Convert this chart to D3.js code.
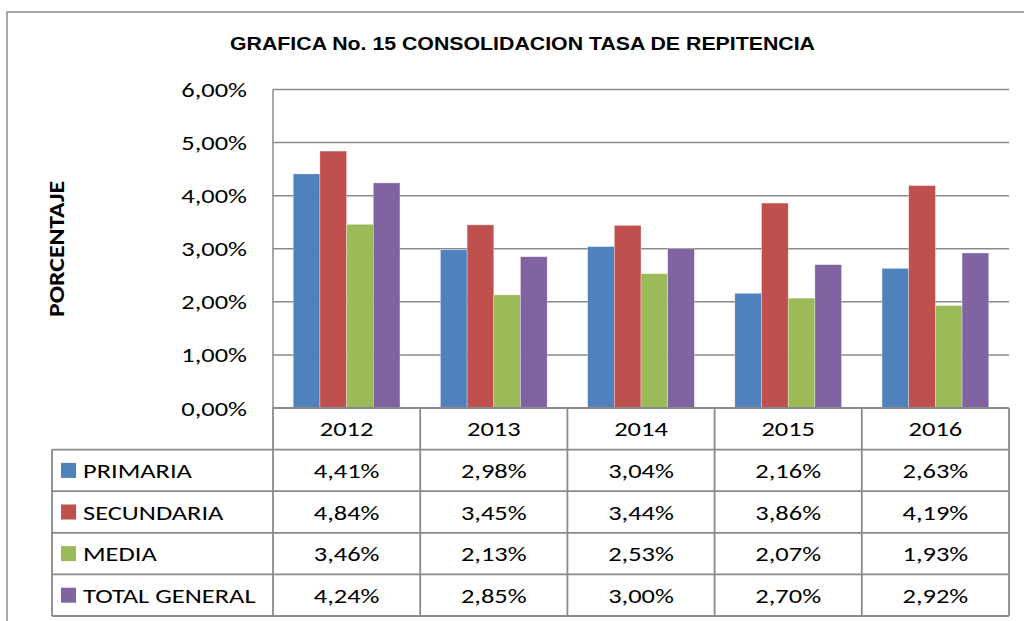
<!DOCTYPE html>
<html><head><meta charset="utf-8">
<script src="https://cdn.jsdelivr.net/npm/d3@7"></script>
<style>body{margin:0;background:#fff} svg{display:block}</style>
</head><body><svg id="c" width="1024" height="621"></svg>
<script>
const years = ["2012","2013","2014","2015","2016"];
const seriesNames = ["PRIMARIA","SECUNDARIA","MEDIA","TOTAL GENERAL"];
const primaria = [4.41,2.98,3.04,2.16,2.63];
const secundaria = [4.84,3.45,3.44,3.86,4.19];
const media = [3.46,2.13,2.53,2.07,1.93];
const totalGeneral = [4.24,2.85,3.00,2.70,2.92];
const seriesColors = ["#4F81BD","#C0504D","#9BBB59","#8064A2"];
const yTicks = [0,1,2,3,4,5,6];
const titleText = "GRAFICA No. 15 CONSOLIDACION TASA DE REPITENCIA";
const yTitle = "PORCENTAJE";

const seriesData = [primaria, secundaria, media, totalGeneral];
const fmt = v => d3.format(".2f")(v).replace(".", ",") + "%";

const svg = d3.select("#c");
const gridColor = "#8a8a8a";
const bodyFont = "Carlito, Lato, 'Open Sans', sans-serif";
const bodySize = 21, sx = 1.26;

const plotL = 273, plotR = 1009, plotT = 89.5, plotB = 408;
const rowH = 41.6, tableL = 52;

function bodyText(g, x0, y0, anchor, str) {
  return g.append("text")
    .attr("transform", `translate(${x0},${y0}) scale(${sx},1)`)
    .attr("dy","0.36em").attr("text-anchor",anchor)
    .attr("font-family",bodyFont).attr("font-size",bodySize).attr("fill","#000")
    .text(str);
}

// outer border
svg.append("rect").attr("x",7).attr("y",12).attr("width",1040).attr("height",640)
  .attr("fill","none").attr("stroke","#8c8c8c").attr("stroke-width",1.5);

// title
svg.append("text").attr("x",230).attr("y",50)
  .attr("font-family","'Liberation Sans', Arial, sans-serif").attr("font-weight","bold")
  .attr("font-size",17.7).attr("fill","#000")
  .attr("textLength",585).attr("lengthAdjust","spacingAndGlyphs").text(titleText);

const y = d3.scaleLinear().domain([0,6]).range([plotB, plotT]);
const x = d3.scaleBand().domain(years).range([plotL, plotR]).paddingInner(0).paddingOuter(0);
const groupFrac = 0.725;
const xs = d3.scaleBand().domain(d3.range(seriesNames.length))
  .range([0, x.bandwidth()*groupFrac]);
const groupOffset = x.bandwidth()*(1-groupFrac)/2;

// gridlines
svg.append("g").selectAll("line").data(yTicks.filter(d=>d>0)).join("line")
  .attr("x1",plotL).attr("x2",plotR).attr("y1",d=>y(d)).attr("y2",d=>y(d))
  .attr("stroke",gridColor).attr("stroke-width",1.5);

// y axis line
svg.append("line").attr("x1",plotL).attr("x2",plotL).attr("y1",plotT).attr("y2",plotB)
  .attr("stroke",gridColor).attr("stroke-width",1.5);

// y tick labels
const yl = svg.append("g");
yTicks.forEach(t => bodyText(yl, 247, y(t), "end", fmt(t)));

// y title
svg.append("text").attr("transform","translate(64,249) rotate(-90)")
  .attr("x",-68).attr("font-family",bodyFont).attr("font-weight","bold")
  .attr("font-size",22).attr("fill","#000")
  .attr("textLength",136).attr("lengthAdjust","spacingAndGlyphs").text(yTitle);

// bars
seriesData.forEach((vals, si) => {
  svg.append("g").selectAll("rect").data(vals).join("rect")
    .attr("x",(d,i)=>x(years[i]) + groupOffset + xs(si))
    .attr("width",xs.bandwidth())
    .attr("y",d=>y(d)).attr("height",d=>y(0)-y(d))
    .attr("fill",seriesColors[si]).attr("stroke","#ffffff").attr("stroke-opacity",0.5).attr("stroke-width",0.6);
});

// table
const tableB = plotB + rowH*(seriesNames.length+1);
const tg = svg.append("g").attr("stroke",gridColor).attr("stroke-width",1.8);
tg.append("line").attr("x1",plotL).attr("x2",plotR).attr("y1",plotB).attr("y2",plotB);
d3.range(1, seriesNames.length+2).forEach(r => {
  tg.append("line").attr("x1",tableL).attr("x2",plotR)
    .attr("y1",plotB + r*rowH).attr("y2",plotB + r*rowH);
});
years.forEach(yr => {
  tg.append("line").attr("x1",x(yr)).attr("x2",x(yr)).attr("y1",plotB).attr("y2",tableB);
});
tg.append("line").attr("x1",plotR).attr("x2",plotR).attr("y1",plotB).attr("y2",tableB);
tg.append("line").attr("x1",tableL).attr("x2",tableL).attr("y1",plotB+rowH).attr("y2",tableB);

// header labels
const hg = svg.append("g");
years.forEach(yr => bodyText(hg, x(yr)+x.bandwidth()/2, plotB + rowH/2, "middle", yr));

// rows
seriesNames.forEach((name, si) => {
  const cy = plotB + rowH*(si+1) + rowH/2;
  svg.append("rect").attr("x",61).attr("y",cy-7.5).attr("width",15).attr("height",15)
    .attr("fill",seriesColors[si]);
  const rg = svg.append("g");
  bodyText(rg, 83, cy, "start", name);
  seriesData[si].forEach((v,i) => bodyText(rg, x(years[i])+x.bandwidth()/2, cy, "middle", fmt(v)));
});
</script></body></html>
